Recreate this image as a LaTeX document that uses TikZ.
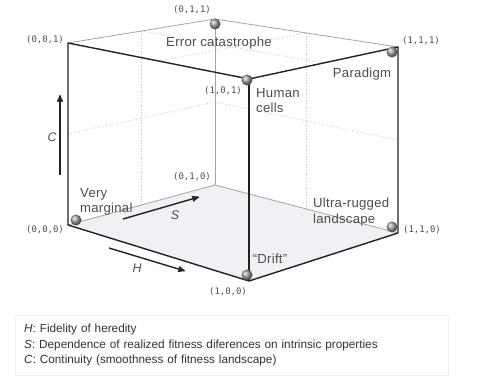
\documentclass[tikz,border=0pt]{standalone}
\usepackage{fontspec}
\setmainfont{Liberation Sans}
\setmonofont{DejaVu Sans Mono}
\usetikzlibrary{arrows}
\usetikzlibrary{calc}
\usetikzlibrary{positioning}
\usetikzlibrary{shadows}
\definecolor{edgecol}{rgb}{0.13,0.13,0.13}
\definecolor{backcol}{rgb}{0.64,0.64,0.64}
\definecolor{dotcol}{rgb}{0.74,0.74,0.74}
\definecolor{floorcol}{rgb}{0.94,0.945,0.955}
\definecolor{labcol}{rgb}{0.30,0.30,0.30}
\tikzset{>=stealth', semithick,
  front/.style={draw=edgecol, line width=1.4bp},
  back/.style={draw=backcol, line width=0.8bp},
  grid/.style={draw=dotcol, line width=0.8bp, dotted},
  ball/.style={circle, inner sep=0pt, minimum size=11bp, shading=ball, ball color=gray!75},
  corner/.style={font=\ttfamily\fontsize{9}{10}\selectfont, text=labcol, inner sep=1bp},
  tag/.style={font=\fontsize{13.2}{15.5}\selectfont\addfontfeature{LetterSpace=2}, text=labcol, inner sep=1bp, align=left},
  axis/.style={->, draw=edgecol, line width=1.4bp},
  axislab/.style={font=\itshape\fontsize{12.5}{14}\selectfont, text=labcol, inner sep=1bp},
  legendbox/.style={fill=white, draw=black!6, drop shadow={opacity=0.2, shadow xshift=1bp, shadow yshift=-1bp},
    anchor=north west, inner xsep=9bp, inner ysep=6bp, text width=415bp, minimum height=60bp,
    align=left, font=\fontsize{11.8}{15.5}\selectfont, text=black!80}
}
\begin{document}
\begin{tikzpicture}[line join=bevel]
\useasboundingbox (0bp,0bp) rectangle (499bp,386bp);
%%
\coordinate (v000) at (68bp,161bp);
\coordinate (v100) at (249bp,105bp);
\coordinate (v110) at (398bp,153bp);
\coordinate (v010) at (215bp,201bp);
\coordinate (v001) at (68bp,343bp);
\coordinate (v101) at (249bp,307bp);
\coordinate (v111) at (398bp,339bp);
\coordinate (v011) at (215bp,367bp);
%
\fill [floorcol] (v000) -- (v100) -- (v110) -- (v010) -- cycle;
% midlines on the far faces
\draw [grid] ($(v001)!0.5!(v011)$) -- ($(v000)!0.5!(v010)$);
\draw [grid] ($(v001)!0.5!(v000)$) -- ($(v011)!0.5!(v010)$) -- ($(v111)!0.5!(v110)$);
\draw [grid] ($(v011)!0.5!(v111)$) -- ($(v010)!0.5!(v110)$);
\draw [grid] ($(v001)!0.5!(v011)$) -- ($(v101)!0.5!(v111)$);
\draw [grid] ($(v001)!0.5!(v101)$) -- ($(v011)!0.5!(v111)$);
% hidden edges
\draw [back] (v001) -- (v011) -- (v111);
\draw [back] (v011) -- (v010);
\draw [back] (v000) -- (v010) -- (v110);
% visible edges
\draw [front] (v000) -- (v001) -- (v101) -- (v111) -- (v110) -- (v100) -- cycle;
\draw [front] (v101) -- (v100);
%
\node (b011) at (215bp,362bp) [ball] {};
\node (b101) at (247bp,306bp) [ball] {};
\node (b111) at (392bp,334bp) [ball] {};
\node (b000) at (76bp,166bp) [ball] {};
\node (b100) at (247bp,111bp) [ball] {};
\node (b110) at (392bp,159bp) [ball] {};
%
\node (l011) at (192bp,376bp) [corner] {(0,1,1)};
\node (l001) at (45bp,346bp) [corner] {(0,0,1)};
\node (l101) at (223bp,295bp) [corner] {(1,0,1)};
\node (l111) at (421bp,345bp) [corner] {(1,1,1)};
\node (l010) at (192bp,209bp) [corner] {(0,1,0)};
\node (l000) at (45bp,156bp) [corner] {(0,0,0)};
\node (l110) at (422bp,156bp) [corner] {(1,1,0)};
\node (l100) at (228bp,94bp) [corner] {(1,0,0)};
%
\node (error) at (219bp,343bp) [tag] {Error catastrophe};
\node (paradigm) at (362bp,312bp) [tag] {Paradigm};
\node (human) at (255bp,299bp) [tag, anchor=north west] {Human\\cells};
\node (marginal) at (79bp,199bp) [tag, anchor=north west] {Very\\marginal};
\node (rugged) at (312bp,189bp) [tag, anchor=north west] {Ultra-rugged\\landscape};
\node (drift) at (270bp,127bp) [tag] {“Drift”};
%
\coordinate (c0) at (60bp,211bp);
\coordinate (c1) at (60bp,291bp);
\coordinate (s0) at (123bp,167bp);
\coordinate (s1) at (199bp,189bp);
\coordinate (h0) at (109bp,138bp);
\coordinate (h1) at (185bp,115bp);
\draw [axis] (c0) -- (c1);
\draw [axis] (s0) -- (s1);
\draw [axis] (h0) -- (h1);
\node (clab) at (52bp,249bp) [axislab] {C};
\node (slab) at (175bp,171bp) [axislab] {S};
\node (hlab) at (137bp,118bp) [axislab] {H};
%
\node (legend) at (15bp,71bp) [legendbox] {\textit{H}: Fidelity of heredity\\
\textit{S}: Dependence of realized fitness diferences on intrinsic properties\\
\textit{C}: Continuity (smoothness of fitness landscape)};
%
\end{tikzpicture}
\end{document}
